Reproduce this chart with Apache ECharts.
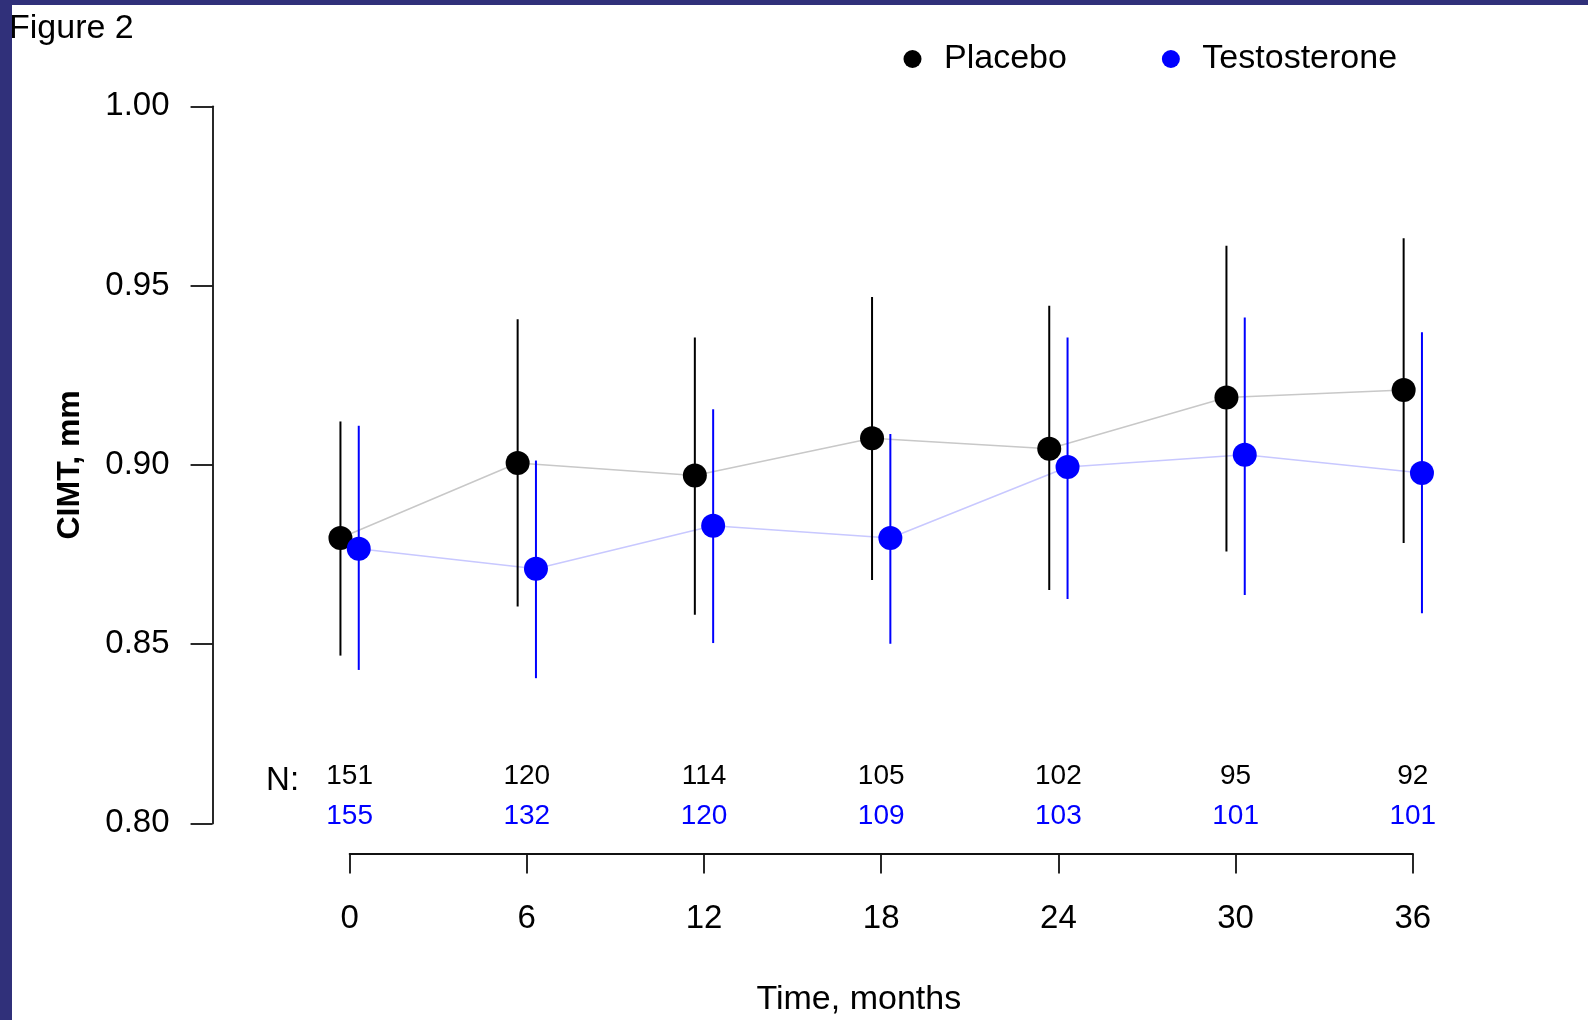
<!DOCTYPE html>
<html>
<head>
<meta charset="utf-8">
<title>Figure 2</title>
<script src="https://cdn.jsdelivr.net/npm/echarts@6.0.0/dist/echarts.min.js"></script>
<style>
    html, body {
        margin: 0;
        padding: 0;
        background: #fff;
    }

    #chart {
        width: 1588px;
        height: 1020px;
    }
</style>
</head>
<body>
<div id="chart"></div>
<script>
// values (CIMT, mm)
const months = [0, 6, 12, 18, 24, 30, 36]
const placeboMean = [0.8796, 0.9005, 0.8970, 0.9074, 0.9045, 0.9188, 0.9209]
const placeboLow = [0.8468, 0.8605, 0.8582, 0.8679, 0.8651, 0.8758, 0.8782]
const placeboHigh = [0.9121, 0.9406, 0.9355, 0.9468, 0.9444, 0.9611, 0.9632]
const testoMean = [0.8766, 0.8710, 0.8830, 0.8796, 0.8994, 0.9028, 0.8977]
const testoLow = [0.8428, 0.8405, 0.8503, 0.8501, 0.8626, 0.8637, 0.8586]
const testoHigh = [0.9109, 0.9012, 0.9155, 0.9086, 0.9355, 0.9411, 0.9370]
const placeboN = [151, 120, 114, 105, 102, 95, 92]
const testoN = [155, 132, 120, 109, 103, 101, 101]

const font = '"Liberation Sans", Arial, Helvetica, sans-serif'
const navy = '#30307a'

// layout: pixel of month 0 / month 36 on the bottom axis
const x0px = 349.6
const x36px = 1412.8
const pxPerMonth = (x36px - x0px) / 36
const xMin = -4.64
const xMax = 40
const plotTop = 106.3
const plotBottom = 823.4
const axisY = 853.5
const dodge = 0.31 // groups drawn side by side

const chartObj = echarts.init(document.getElementById('chart'))

const shift = (arr, d) => arr.map((v, i) => [months[i] + d, v])
const bars = (lo, hi, d) => lo.map((v, i) => [months[i] + d, v, hi[i]])

function errorBars(name, data, color) {
    return {
        type: 'custom',
        name: name,
        xAxisIndex: 0,
        yAxisIndex: 0,
        silent: true,
        z: 3,
        encode: {x: 0, y: [1, 2]},
        data: data,
        renderItem: (params, api) => {
            const a = api.coord([api.value(0), api.value(1)])
            const b = api.coord([api.value(0), api.value(2)])
            return {
                type: 'line',
                shape: {x1: a[0], y1: a[1], x2: b[0], y2: b[1]},
                style: {stroke: color, lineWidth: 2}
            }
        }
    }
}

function connector(data, color) {
    return {
        type: 'line',
        xAxisIndex: 0,
        yAxisIndex: 0,
        silent: true,
        z: 2,
        symbol: 'none',
        lineStyle: {color: color, width: 1.5},
        data: data
    }
}

function dots(name, data, color) {
    return {
        type: 'scatter',
        name: name,
        xAxisIndex: 0,
        yAxisIndex: 0,
        z: 5,
        symbol: 'circle',
        symbolSize: 24,
        itemStyle: {color: color, opacity: 1},
        data: data
    }
}

function textRow(data, color, size, fmt) {
    return {
        type: 'scatter',
        xAxisIndex: 0,
        yAxisIndex: 0,
        silent: true,
        symbolSize: 1,
        itemStyle: {color: 'transparent', opacity: 1},
        label: {
            show: true,
            position: 'inside',
            formatter: fmt,
            color: color,
            opacity: 1,
            textBorderWidth: 0,
            fontSize: size,
            fontFamily: font
        },
        data: data
    }
}

const countRow = (counts, yVal, color) =>
    textRow(counts.map((n, i) => [months[i], yVal, n]), color, 28, p => p.data[2])

const option = {
    animation: false,
    backgroundColor: '#fff',
    textStyle: {fontFamily: font},
    grid: [
        {
            left: x0px + xMin * pxPerMonth,
            right: 1588 - (x0px + xMax * pxPerMonth),
            top: plotTop,
            bottom: 1020 - plotBottom,
            outerBoundsMode: 'none'
        },
        {
            left: x0px,
            right: 1588 - x36px,
            top: plotTop,
            bottom: 1020 - axisY,
            outerBoundsMode: 'none'
        }
    ],
    legend: {
        data: ['Placebo', 'Testosterone'],
        left: 898.5,
        top: 37,
        icon: 'circle',
        itemWidth: 53,
        itemHeight: 18,
        itemGap: 95,
        selectedMode: false,
        textStyle: {fontSize: 34, color: '#000', fontFamily: font}
    },
    xAxis: [
        {
            gridIndex: 0,
            type: 'value',
            min: xMin,
            max: xMax,
            show: false,
            axisLine: {onZero: false}
        },
        {
            gridIndex: 1,
            type: 'value',
            position: 'bottom',
            min: 0,
            max: 36,
            interval: 6,
            axisLine: {show: true, onZero: false, lineStyle: {color: '#111', width: 1.8}},
            axisTick: {show: true, inside: false, length: 20, lineStyle: {color: '#111', width: 1.8}},
            axisLabel: {margin: 49, fontSize: 33, color: '#000', fontFamily: font},
            splitLine: {show: false}
        }
    ],
    yAxis: [
        {
            gridIndex: 0,
            type: 'value',
            min: 0.8,
            max: 1.0,
            interval: 0.05,
            position: 'left',
            name: 'CIMT, mm',
            nameLocation: 'middle',
            nameGap: 126,
            nameMoveOverlap: false,
            nameTextStyle: {fontSize: 32, fontWeight: 'bold', color: '#000', fontFamily: font},
            axisLine: {show: true, onZero: false, lineStyle: {color: '#111', width: 1.8}},
            axisTick: {show: true, inside: false, length: 22, lineStyle: {color: '#111', width: 1.8}},
            axisLabel: {
                margin: 43,
                fontSize: 33,
                lineHeight: 33,
                color: '#000',
                fontFamily: font,
                verticalAlign: 'middle',
                padding: [8, 0, 0, 0],
                formatter: v => v.toFixed(2)
            },
            splitLine: {show: false}
        },
        {
            gridIndex: 1,
            type: 'value',
            show: false
        }
    ],
    graphic: [
        {
            type: 'text',
            left: 9,
            top: 12,
            z: 10,
            style: {text: 'Figure 2', fill: '#000', font: '34px ' + font}
        },
        {
            type: 'text',
            x: 858.8,
            y: 1000,
            z: 10,
            style: {
                text: 'Time, months',
                font: '34px ' + font,
                fill: '#000',
                align: 'center',
                verticalAlign: 'middle'
            }
        },
        // page frame
        {type: 'rect', left: 0, top: 0, z: 100, shape: {width: 12, height: 1020}, style: {fill: navy}},
        {type: 'rect', left: 0, top: 0, z: 100, shape: {width: 1588, height: 5}, style: {fill: navy}}
    ],
    series: [
        connector(shift(placeboMean, -dodge), '#c8c8c8'),
        connector(shift(testoMean, dodge), '#c8c8ff'),
        errorBars('placeboCI', bars(placeboLow, placeboHigh, -dodge), '#000'),
        errorBars('testoCI', bars(testoLow, testoHigh, dodge), '#0000ff'),
        dots('Placebo', shift(placeboMean, -dodge), '#000'),
        dots('Testosterone', shift(testoMean, dodge), '#0000ff'),
        countRow(placeboN, 0.8132, '#000'),
        countRow(testoN, 0.8021, '#0000ff'),
        textRow([[-2.27, 0.8118]], '#000', 33, 'N:')
    ]
}

chartObj.setOption(option)
</script>
</body>
</html>
